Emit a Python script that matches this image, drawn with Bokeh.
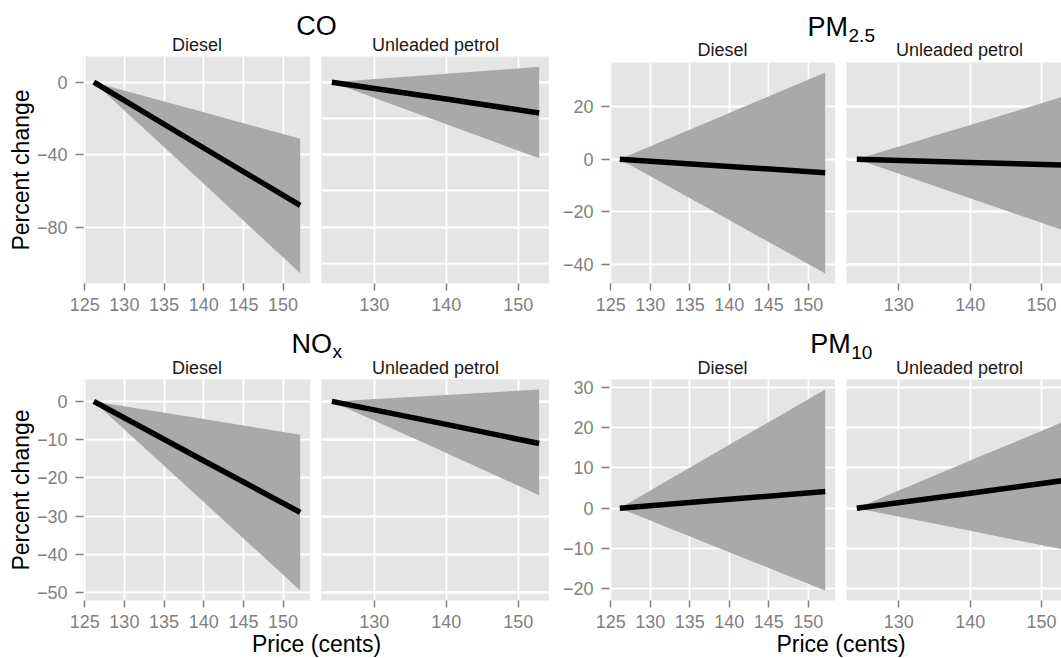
from bokeh.plotting import figure
from bokeh.layouts import row, column
from bokeh.models import Range1d, FixedTicker, Grid
from bokeh.core.properties import value
from bokeh.embed import file_html
from bokeh.resources import INLINE

FONT = "Liberation Sans"

# ---------------- data ----------------
fuels = ["Diesel", "Unleaded petrol"]
price_diesel = [126.15, 140.0, 152.15]
price_unleaded = [124.1, 140.0, 152.9]

co_diesel_fit = [0.0, -36.3, -68.0]
co_diesel_lower = [0.0, -56.1, -105.4]
co_diesel_upper = [0.0, -16.6, -31.2]
co_unleaded_fit = [0.0, -9.3, -17.0]
co_unleaded_lower = [0.0, -23.2, -42.0]
co_unleaded_upper = [0.0, 4.7, 8.5]

pm25_diesel_fit = [0.0, -2.7, -5.1]
pm25_diesel_lower = [0.0, -23.1, -43.4]
pm25_diesel_upper = [0.0, 17.6, 33.0]
pm25_unleaded_fit = [0.0, -1.2, -2.2]
pm25_unleaded_lower = [0.0, -14.8, -26.8]
pm25_unleaded_upper = [0.0, 13.1, 23.7]

nox_diesel_fit = [0.0, -15.5, -29.0]
nox_diesel_lower = [0.0, -26.3, -49.4]
nox_diesel_upper = [0.0, -4.6, -8.7]
nox_unleaded_fit = [0.0, -6.0, -11.0]
nox_unleaded_lower = [0.0, -13.5, -24.5]
nox_unleaded_upper = [0.0, 1.7, 3.1]

pm10_diesel_fit = [0.0, 2.2, 4.1]
pm10_diesel_lower = [0.0, -10.9, -20.4]
pm10_diesel_upper = [0.0, 15.7, 29.4]
pm10_unleaded_fit = [0.0, 3.7, 6.8]
pm10_unleaded_lower = [0.0, -5.6, -10.2]
pm10_unleaded_upper = [0.0, 11.8, 21.3]

x_ticks_diesel = [125, 130, 135, 140, 145, 150]
x_ticks_unleaded = [130, 140, 150]
y_ticks_co = [-80, -40, 0]
y_ticks_pm25 = [-40, -20, 0, 20]
y_ticks_nox = [-50, -40, -30, -20, -10, 0]
y_ticks_pm10 = [-20, -10, 0, 10, 20, 30]

x_title = "Price (cents)"
y_title = "Percent change"

# ---------------- style ----------------
PANEL_BG = "#E5E5E5"
RIBBON = "#A9A9A9"
GREY_TXT = "#7F7F7F"
STRIP_TXT = "#1A1A1A"

# approximate advance widths (em) for composing titles with subscripts
ADV = {"P": .667, "M": .833, "C": .722, "O": .778, "N": .722, "x": .5,
       "2": .556, ".": .278, "5": .556, "1": .556, "0": .556}
MID = 0.3465  # distance (em) from alphabetic baseline up to the text box middle


def tw(s, size):
    return sum(ADV.get(c, .556) for c in s) * size


def expand(vals, mult=0.05):
    lo, hi = min(vals), max(vals)
    pad = (hi - lo) * mult
    return lo - pad, hi + pad


def text_fig(w, h):
    p = figure(width=w, height=h, x_range=Range1d(0, w), y_range=Range1d(h, 0),
               x_axis_type=None, y_axis_type=None, toolbar_location=None,
               output_backend="svg", title=None,
               min_border_left=0, min_border_right=0, min_border_top=0, min_border_bottom=0)
    p.outline_line_color = None
    p.background_fill_color = "white"
    p.border_fill_color = "white"
    return p


def add_text(p, x, baseline, s, size, color="black", align="center"):
    p.text(x=[x], y=[baseline - MID * size], text=[s], text_font=value(FONT),
           text_font_size=value(f"{size}px"), text_color=color,
           text_align=value(align), text_baseline=value("middle"))


def panel(width, height, border_left, border_bottom, x_rng, y_rng, xticks, yticks,
          show_y, ytitle=None):
    p = figure(width=width, height=height,
               x_range=Range1d(*x_rng), y_range=Range1d(*y_rng),
               toolbar_location=None, output_backend="svg", title=None,
               y_axis_location="left" if show_y else None,
               min_border_left=border_left, min_border_right=0,
               min_border_top=0, min_border_bottom=border_bottom)
    p.outline_line_color = None
    p.background_fill_color = PANEL_BG
    p.border_fill_color = "white"
    xt = FixedTicker(ticks=xticks, minor_ticks=[])
    yt = FixedTicker(ticks=yticks, minor_ticks=[])
    p.xaxis.ticker = xt
    p.xgrid.ticker = xt
    if show_y:
        p.yaxis.ticker = yt
        p.ygrid.ticker = yt
    else:
        p.add_layout(Grid(dimension=1, ticker=yt))
    for g in p.grid:
        g.grid_line_color = "white"
        g.grid_line_width = 1.8
        g.minor_grid_line_color = None
    for ax in p.axis:
        ax.axis_line_color = None
        ax.major_tick_line_color = GREY_TXT
        ax.major_tick_line_width = 1.5
        ax.major_tick_in = 0
        ax.minor_tick_line_color = None
        ax.major_label_text_font = FONT
        ax.major_label_text_font_size = "18px"
        ax.major_label_text_color = GREY_TXT
    p.xaxis.major_tick_out = 7
    p.xaxis.major_label_standoff = 7
    if show_y:
        p.yaxis.major_tick_out = 8
        p.yaxis.major_label_standoff = 8
        if ytitle:
            p.yaxis.axis_label = ytitle
            p.yaxis.axis_label_text_font = FONT
            p.yaxis.axis_label_text_font_size = "23px"
            p.yaxis.axis_label_text_font_style = "normal"
            p.yaxis.axis_label_text_color = "black"
            p.yaxis.axis_label_standoff = 0
    return p


def draw(p, xs, lower, upper, fit):
    p.varea(x=xs, y1=lower, y2=upper, fill_color=RIBBON)
    p.line(x=xs, y=fit, line_color="black", line_width=5.5, line_cap="butt", line_join="round")


def block(main, sub, series_d, series_u, yticks, left_block, header_h, title_base,
          sub_base, strip_base, frame_h, bottom_h, footer_h=0, footer_base=0):
    # horizontal geometry (pixels)
    if left_block:
        bl, fd, gap, fu_full, fu_vis, ytl = 83, 227, 11, 228, 228, y_title
    else:
        bl, fd, gap, fu_full, fu_vis, ytl = 60, 226, 11, 226, 215, None
    wd = bl + fd
    wu = gap + fu_vis
    bw = wd + wu
    d_center = bl + fd / 2
    u_center = wd + gap + fu_full / 2
    t_center = (bl + wd + gap + fu_full) / 2

    # header: title + strip labels
    hdr = text_fig(bw, header_h)
    if sub:
        wm, ws = tw(main, 27), tw(sub, 19)
        xa = t_center - (wm + ws) / 2 + wm
        add_text(hdr, xa, title_base, main, 27, align="right")
        add_text(hdr, xa + 0.5, sub_base, sub, 19, align="left")
    else:
        add_text(hdr, t_center, title_base, main, 27)
    add_text(hdr, d_center, strip_base, fuels[0], 18, STRIP_TXT)
    add_text(hdr, u_center, strip_base, fuels[1], 18, STRIP_TXT)

    all_y = series_d[1] + series_d[2] + series_u[1] + series_u[2]
    y_rng = expand(all_y)
    xd = expand(price_diesel)
    xu_lo, xu_hi = expand(price_unleaded)
    xu = (xu_lo, xu_lo + (xu_hi - xu_lo) * fu_vis / fu_full)

    h = frame_h + bottom_h
    pd_ = panel(wd, h, bl, bottom_h, xd, y_rng, x_ticks_diesel, yticks, True, ytl)
    pu_ = panel(wu, h, gap, bottom_h, xu, y_rng, x_ticks_unleaded, yticks, False)
    draw(pd_, price_diesel, series_d[1], series_d[2], series_d[0])
    draw(pu_, price_unleaded, series_u[1], series_u[2], series_u[0])

    kids = [hdr, row(pd_, pu_)]
    if footer_h:
        ftr = text_fig(bw, footer_h)
        add_text(ftr, t_center, footer_base, x_title, 23)
        kids.append(ftr)
    return column(*kids)


co = block("CO", None,
           (co_diesel_fit, co_diesel_lower, co_diesel_upper),
           (co_unleaded_fit, co_unleaded_lower, co_unleaded_upper),
           y_ticks_co, True, 56, 34.7, 0, 50.7, 227, 37)
pm25 = block("PM", "2.5",
             (pm25_diesel_fit, pm25_diesel_lower, pm25_diesel_upper),
             (pm25_unleaded_fit, pm25_unleaded_lower, pm25_unleaded_upper),
             y_ticks_pm25, False, 62, 35.5, 41.5, 55.8, 221, 37)
nox = block("NO", "x",
            (nox_diesel_fit, nox_diesel_lower, nox_diesel_upper),
            (nox_unleaded_fit, nox_unleaded_lower, nox_unleaded_upper),
            y_ticks_nox, True, 59, 33.3, 37.5, 53.3, 221, 32, 26, 19)
pm10 = block("PM", "10",
             (pm10_diesel_fit, pm10_diesel_lower, pm10_diesel_upper),
             (pm10_unleaded_fit, pm10_unleaded_lower, pm10_unleaded_upper),
             y_ticks_pm10, False, 59, 33.3, 38.3, 53.3, 221, 32, 26, 19)

layout = column(row(co, pm25), row(nox, pm10))

open("out.html", "w").write(file_html(layout, INLINE))
